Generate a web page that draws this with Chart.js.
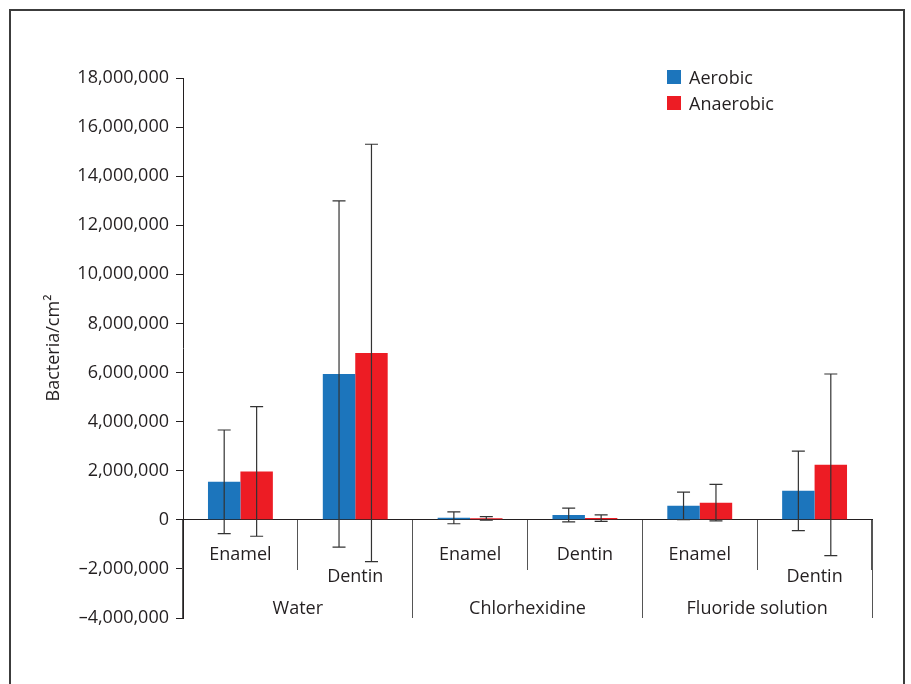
<!DOCTYPE html>
<html>
<head>
<meta charset="utf-8">
<script src="https://cdn.jsdelivr.net/npm/chart.js@4/dist/chart.umd.min.js"></script>
<style>
  html, body { margin: 0; padding: 0; background: #fff; }
  #wrap { position: relative; width: 911px; height: 684px; overflow: hidden; }
  #frame {
    position: absolute; left: 9px; top: 9px; width: 896px; height: 720px;
    border: 2px solid #3c3c3c; box-sizing: border-box;
  }
  #legend {
    position: absolute; left: 667px; top: 64px;
    font: 18px "Open Sans", sans-serif; color: #231f20;
  }
  #legend .item { display: flex; align-items: center; height: 26px; }
  #legend .sw { width: 14px; height: 14px; margin-right: 8px; }
  canvas { position: absolute; left: 0; top: 0; }
</style>
</head>
<body>
<div id="wrap">
  <div id="frame"></div>
  <canvas id="chart" width="911" height="684"></canvas>
  <div id="legend"></div>
</div>
<script>
  const surfaces = ["Enamel", "Dentin", "Enamel", "Dentin", "Enamel", "Dentin"];
  // Dentin labels under water / fluoride sit one line lower in the original
  const surfaceLines = ["Enamel", ["", "Dentin"], "Enamel", "Dentin", "Enamel", ["", "Dentin"]];
  const groups = ["Water", "Chlorhexidine", "Fluoride solution"];

  const aerobic = [1550000, 5940000, 80000, 200000, 570000, 1180000];
  const aerobicSd = [2110000, 7050000, 240000, 280000, 560000, 1620000];
  const anaerobic = [1970000, 6800000, 60000, 70000, 700000, 2240000];
  const anaerobicSd = [2640000, 8500000, 70000, 130000, 740000, 3700000];

  const seriesNames = ["Aerobic", "Anaerobic"];
  const seriesColors = ["#1c75bc", "#ed1c24"];

  const ink = "#231f20";
  const font = { family: "'Open Sans', sans-serif", size: 18, lineHeight: 1.22 };

  const errorBars = {
    id: "errorBars",
    afterDatasetsDraw(chart) {
      const ctx = chart.ctx;
      const y = chart.scales.y;
      ctx.save();
      ctx.strokeStyle = "#333";
      ctx.lineWidth = 1.2;
      chart.data.datasets.forEach((ds, d) => {
        const meta = chart.getDatasetMeta(d);
        meta.data.forEach((bar, i) => {
          const v = ds.data[i];
          const sd = ds.sd[i];
          const top = y.getPixelForValue(v + sd);
          const bot = y.getPixelForValue(v - sd);
          ctx.beginPath();
          ctx.moveTo(bar.x, top);
          ctx.lineTo(bar.x, bot);
          ctx.moveTo(bar.x - 6.5, top);
          ctx.lineTo(bar.x + 6.5, top);
          ctx.moveTo(bar.x - 6.5, bot);
          ctx.lineTo(bar.x + 6.5, bot);
          ctx.stroke();
        });
      });
      ctx.restore();
    },
  };

  const legend = document.getElementById("legend");
  seriesNames.forEach((name, i) => {
    const row = document.createElement("div");
    row.className = "item";
    row.innerHTML = `<span class="sw" style="background:${seriesColors[i]}"></span><span>${name}</span>`;
    legend.appendChild(row);
  });

  new Chart(document.getElementById("chart"), {
    type: "bar",
    data: {
      labels: surfaceLines,
      datasets: [
        { label: seriesNames[0], data: aerobic, sd: aerobicSd, backgroundColor: seriesColors[0] },
        { label: seriesNames[1], data: anaerobic, sd: anaerobicSd, backgroundColor: seriesColors[1] },
      ],
    },
    options: {
      responsive: false,
      animation: false,
      devicePixelRatio: 1,
      layout: { padding: { left: 43, top: 78, right: 39, bottom: 66 } },
      datasets: { bar: { categoryPercentage: 0.565, barPercentage: 1.0, borderWidth: 0 } },
      plugins: { legend: { display: false }, tooltip: { enabled: false } },
      scales: {
        y: {
          min: -4000000,
          max: 18000000,
          afterFit: (s) => { s.width = 140; },
          ticks: {
            stepSize: 2000000,
            color: ink,
            font: font,
            padding: 7,
            callback: (v) => v.toLocaleString("en-US").replace("-", "\u2013"),
          },
          grid: { drawOnChartArea: false, drawTicks: true, tickLength: 7, color: ink, lineWidth: 1 },
          border: { display: true, color: ink, width: 1 },
          title: {
            display: true,
            text: "Bacteria/cm\u00b2",
            color: ink,
            font: font,
            padding: 0,
          },
        },
        x: {
          position: { y: 0 },
          offset: true,
          ticks: { color: ink, font: font, padding: -26, maxRotation: 0, autoSkip: false },
          grid: { offset: true, drawOnChartArea: false, drawTicks: true, tickLength: 50, color: "#555", lineWidth: 1 },
          border: { display: true, color: ink, width: 1 },
        },
        x2: {
          type: "category",
          axis: "x",
          labels: groups,
          position: { y: 0 },
          offset: true,
          ticks: { color: ink, font: font, padding: -20, maxRotation: 0, autoSkip: false },
          grid: { offset: true, drawOnChartArea: false, drawTicks: true, tickLength: 98, color: "#555", lineWidth: 1 },
          border: { display: false },
        },
      },
    },
    plugins: [errorBars],
  });
</script>
</body>
</html>
